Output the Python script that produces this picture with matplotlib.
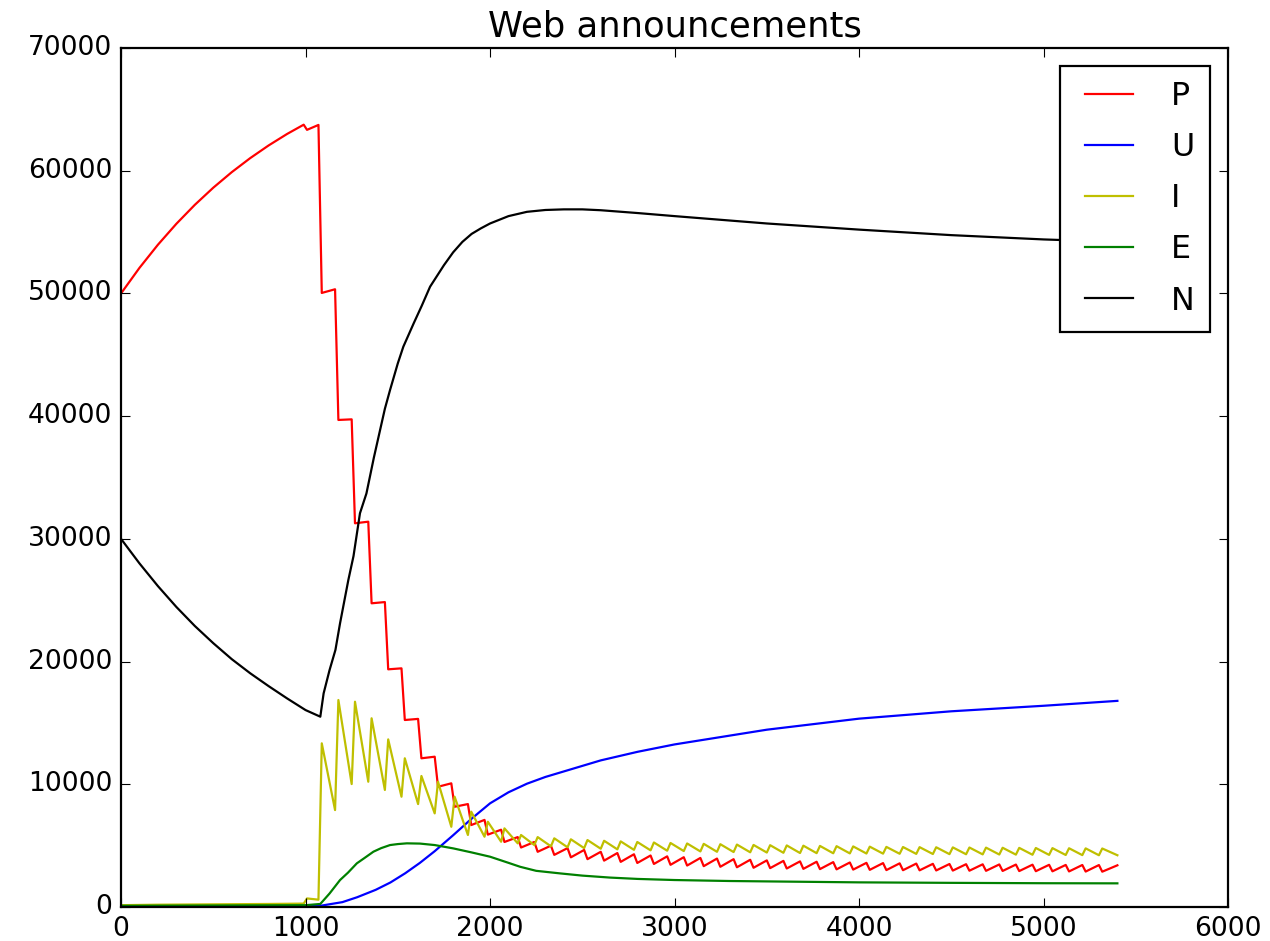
import numpy as np
import matplotlib
matplotlib.use('Agg')
import matplotlib.pyplot as plt

plt.style.use('classic')

# smooth part before the pulse train starts
t_pre = [0, 100, 200, 300, 400, 500, 600, 700, 800, 900, 990]
P_pre = [50000, 52085, 53970, 55676, 57220, 58617, 59881, 61025, 62060, 62995, 63750]
I_pre = [150, 170, 190, 200, 210, 220, 230, 240, 250, 265, 280]

# first small pulse at t=1000
t_kick = 1008
P_kick = 63330
I_kick = 700

# pulse train: value just before each pulse and just after it
pulse_t = np.arange(1070, 5400, 90)
pulse_dt = 18
t_end = 5400

P_before = [63730, 50340, 39740, 31400, 24850, 19450, 15330, 12250, 10080, 8390,
            7100, 6300, 5700, 5300, 5000, 4800, 4650, 4500, 4400, 4300,
            4200, 4130, 4060, 4000, 3950, 3900, 3850, 3800, 3760, 3720,
            3690, 3660, 3630, 3600, 3580, 3560, 3540, 3520, 3505, 3490,
            3480, 3470, 3460, 3450, 3440, 3430, 3425, 3420]
P_after = [50040, 39690, 31270, 24750, 19370, 15240, 12120, 9800, 8170, 6680,
           5900, 5300, 4850, 4500, 4250, 4050, 3900, 3780, 3680, 3590,
           3510, 3440, 3380, 3330, 3280, 3240, 3200, 3170, 3140, 3110,
           3090, 3070, 3050, 3030, 3010, 3000, 2990, 2980, 2970, 2960,
           2950, 2940, 2930, 2920, 2910, 2900, 2890, 2880]
P_end = 3400

I_before = [600, 7900, 10020, 10210, 9540, 8990, 8390, 7630, 6540, 5870,
            5730, 5320, 5190, 5050, 4950, 4870, 4800, 4750, 4700, 4660,
            4620, 4590, 4560, 4530, 4500, 4480, 4460, 4440, 4420, 4400,
            4390, 4380, 4370, 4360, 4350, 4340, 4330, 4320, 4310, 4300,
            4290, 4280, 4270, 4260, 4250, 4240, 4230, 4220]
I_after = [13340, 16870, 16730, 15380, 13660, 12120, 10680, 10210, 8990, 7770,
           6950, 6410, 5870, 5700, 5600, 5520, 5460, 5400, 5350, 5300,
           5260, 5220, 5180, 5150, 5120, 5090, 5060, 5040, 5020, 5000,
           4980, 4960, 4940, 4920, 4900, 4890, 4880, 4870, 4860, 4850,
           4840, 4830, 4820, 4810, 4800, 4790, 4780, 4770]
I_end = 4220

# smooth curves
t_U = [0, 1000, 1080, 1200, 1280, 1380, 1460, 1540, 1620, 1700, 1800, 1900,
       2000, 2100, 2200, 2300, 2400, 2600, 2800, 3000, 3500, 4000, 4500,
       5000, 5400]
U = [0, 50, 100, 400, 800, 1400, 2000, 2750, 3600, 4550, 5850, 7200,
     8450, 9350, 10050, 10600, 11050, 11950, 12650, 13250, 14450, 15350, 15950,
     16400, 16800]

t_E = [0, 1000, 1080, 1130, 1187, 1230, 1278, 1320, 1368, 1410, 1458, 1500,
       1549, 1620, 1700, 1800, 1900, 2000, 2100, 2163, 2250, 2380, 2500,
       2650, 2800, 3000, 3300, 3680, 4000, 4500, 5000, 5400]
E = [100, 150, 250, 1100, 2200, 2800, 3560, 4000, 4510, 4800, 5050, 5130,
     5190, 5170, 5050, 4780, 4450, 4100, 3600, 3280, 2950, 2740, 2560,
     2400, 2290, 2200, 2120, 2060, 2010, 1970, 1940, 1930]

t_N = [0, 100, 200, 300, 400, 500, 600, 700, 800, 900, 1000, 1080, 1098,
       1130, 1162, 1187, 1232, 1260, 1295, 1330, 1370, 1404, 1430, 1458,
       1500, 1530, 1586, 1630, 1675, 1750, 1800, 1850, 1900, 1950, 2000,
       2100, 2200, 2300, 2400, 2500, 2600, 2800, 3000, 3250, 3500, 3750,
       4000, 4500, 5000, 5400]
N = [30000, 28000, 26150, 24450, 22900, 21500, 20200, 19050, 18000, 17000,
     16050, 15510, 17410, 19300, 20950, 23120, 26650, 28600, 32090, 33700,
     36600, 38870, 40600, 42130, 44300, 45660, 47560, 49000, 50550, 52300,
     53350, 54200, 54850, 55300, 55700, 56300, 56650, 56800, 56850, 56850,
     56780, 56550, 56300, 56000, 55700, 55450, 55200, 54750, 54400, 54200]


def sawtooth(t0, y0, tk, yk, before, after, yend):
    t = list(t0) + [tk]
    y = list(y0) + [yk]
    for tp, b, a in zip(pulse_t, before, after):
        t += [tp, tp + pulse_dt]
        y += [b, a]
    t.append(t_end)
    y.append(yend)
    return np.array(t), np.array(y)


tP, P = sawtooth(t_pre, P_pre, t_kick, P_kick, P_before, P_after, P_end)
tI, I = sawtooth(t_pre, I_pre, t_kick, I_kick, I_before, I_after, I_end)

fig = plt.figure(figsize=(1270 / 159, 941 / 159))
ax = fig.add_axes([0.0953, 0.0361, 0.8717, 0.9129])
ax.plot(tP, P, color='r', label='P')
ax.plot(t_U, U, color='b', label='U')
ax.plot(tI, I, color='y', label='I')
ax.plot(t_E, E, color='g', label='E')
ax.plot(t_N, N, color='k', label='N')
ax.set_xlim(0, 6000)
ax.set_ylim(0, 70000)
ax.set_title('Web announcements', fontsize=16)
ax.legend(loc='upper right', borderpad=0.48, labelspacing=0.63,
          handlelength=2.1, handletextpad=0.9, borderaxespad=0.57)

fig.savefig('out.png', dpi=159)
